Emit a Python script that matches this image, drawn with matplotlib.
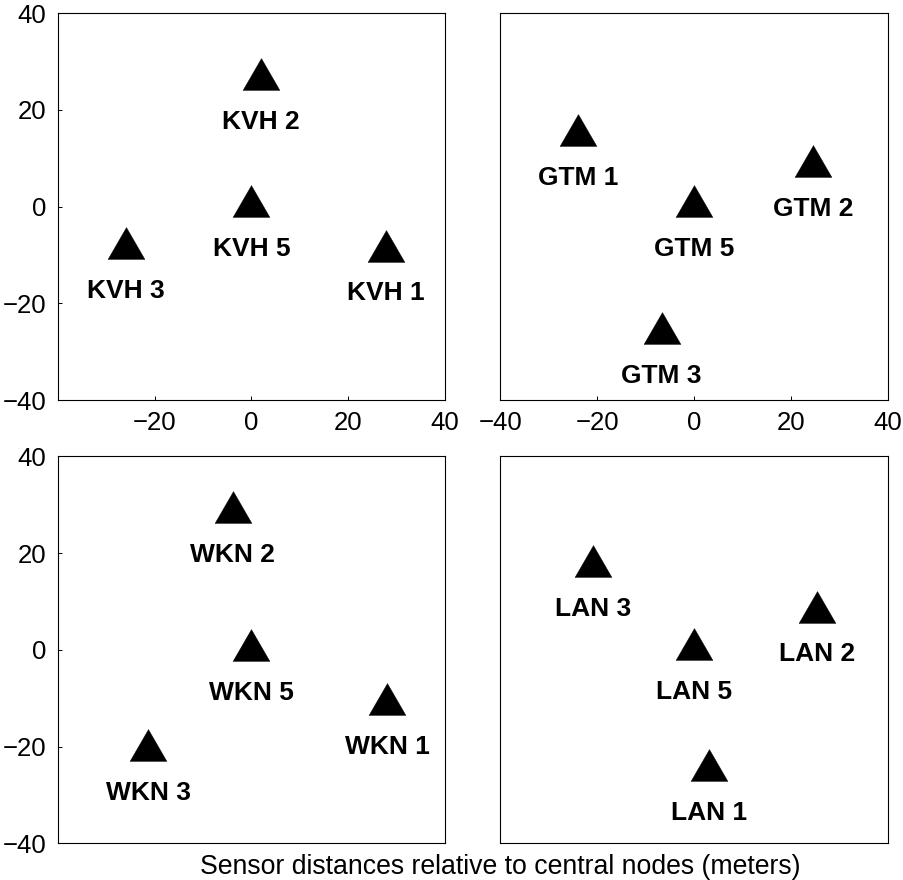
import matplotlib
matplotlib.use("Agg")
import matplotlib.pyplot as plt

plt.rcParams['font.family'] = ['Liberation Sans', 'DejaVu Sans']
plt.rcParams['font.size'] = 18.5

# posizioni dei sensori rispetto al nodo centrale (metri)
kvh_nomi = ["KVH 1", "KVH 2", "KVH 3", "KVH 5"]
kvh_x = [27.7, 2.0, -26.0, 0.0]
kvh_y = [-8.1, 27.3, -7.5, 1.1]

gtm_nomi = ["GTM 1", "GTM 2", "GTM 3", "GTM 5"]
gtm_x = [-23.9, 24.6, -6.7, 0.0]
gtm_y = [15.8, 9.4, -25.1, 1.1]

wkn_nomi = ["WKN 1", "WKN 2", "WKN 3", "WKN 5"]
wkn_x = [28.0, -3.9, -21.3, 0.0]
wkn_y = [-10.2, 29.5, -19.7, 1.0]

lan_nomi = ["LAN 1", "LAN 2", "LAN 3", "LAN 5"]
lan_x = [3.0, 25.4, -20.9, 0.0]
lan_y = [-23.9, 8.9, 18.4, 1.1]

xlabel = "Sensor distances relative to central nodes (meters)"

# triangolo un po' piu' largo che alto
triangolo = [(-1, -0.865), (1, -0.865), (0, 0.865), (-1, -0.865)]


def pannello(ax, nomi, xs, ys, xticks, yticks):
    ax.plot(xs, ys, linestyle="none", marker=triangolo, markersize=26.5,
            color="black", markeredgewidth=0.3)
    for n, xi, yi in zip(nomi, xs, ys):
        ax.annotate(n, (xi, yi), xytext=(0, -39.4), textcoords="offset points",
                    ha="center", va="baseline", fontweight="bold", fontsize=19)
    ax.set_xlim(-40, 40)
    ax.set_ylim(-40, 40)
    ax.set_xticks(xticks)
    ax.set_yticks(yticks)
    ax.tick_params(direction="in", length=3, width=0.7, pad=8, labelsize=18.5)
    for s in ax.spines.values():
        s.set_linewidth(0.8)


fig = plt.figure(figsize=(9.04, 8.80), dpi=100)

w = 387.5 / 904
h = 387.0 / 880
ax1 = fig.add_axes([57.7 / 904, 1 - 400 / 880, w, h])
ax2 = fig.add_axes([500.3 / 904, 1 - 400 / 880, w, h])
ax3 = fig.add_axes([57.7 / 904, 1 - 843.3 / 880, w, h])
ax4 = fig.add_axes([500.3 / 904, 1 - 843.3 / 880, w, h])

pannello(ax1, kvh_nomi, kvh_x, kvh_y, [-20, 0, 20, 40], [-40, -20, 0, 20, 40])
pannello(ax2, gtm_nomi, gtm_x, gtm_y, [-40, -20, 0, 20, 40], [])
pannello(ax3, wkn_nomi, wkn_x, wkn_y, [], [-40, -20, 0, 20, 40])
pannello(ax4, lan_nomi, lan_x, lan_y, [], [])

fig.text(500 / 904, 1 - 867 / 880, xlabel, ha="center", va="center", fontsize=19.2)

fig.savefig("out.png", dpi=100)
